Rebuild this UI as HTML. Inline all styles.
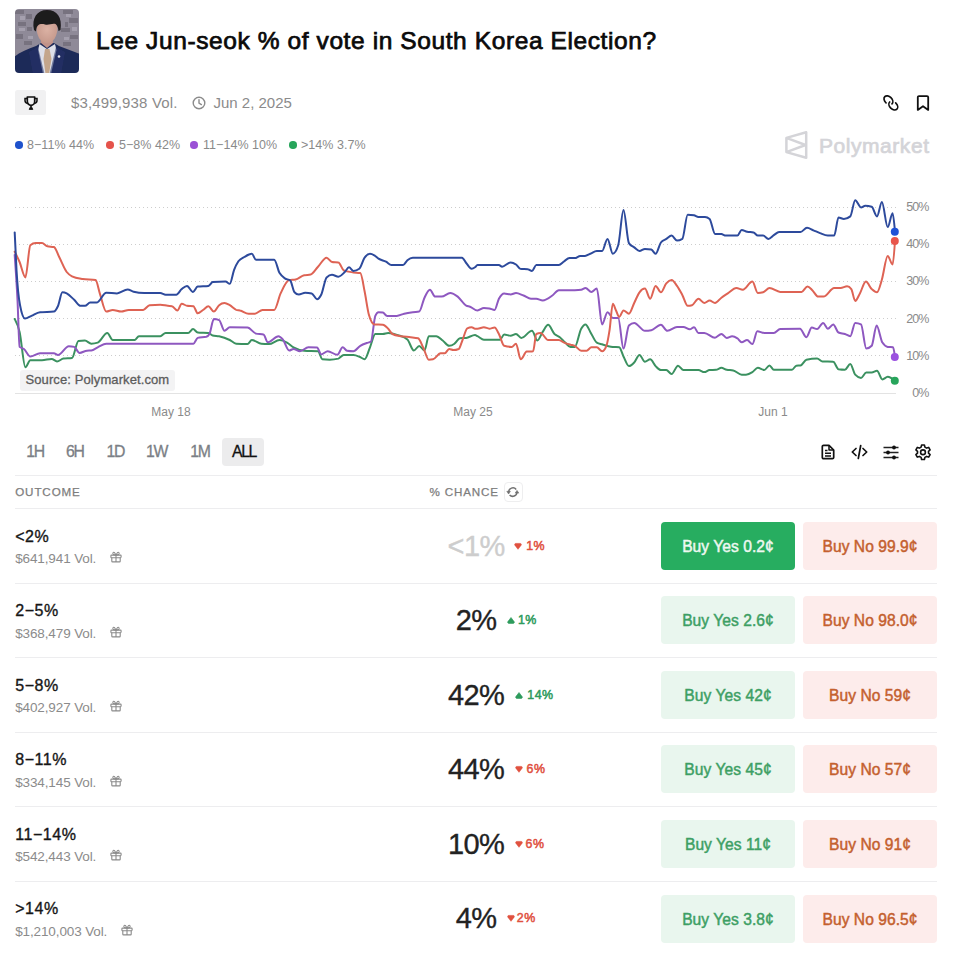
<!DOCTYPE html>
<html><head><meta charset="utf-8">
<style>
html,body{margin:0;padding:0;background:#fff;}
body{width:961px;height:959px;position:relative;overflow:hidden;font-family:"Liberation Sans", sans-serif;}
.t{position:absolute;white-space:nowrap;}
.a{position:absolute;}
svg{position:absolute;overflow:visible;}
</style></head><body>
<svg style="left:15px;top:9px" width="64" height="64" viewBox="0 0 64 64">
<defs><clipPath id="cp"><rect x="0" y="0" width="64" height="64" rx="4"/></clipPath>
<filter id="bl" x="-10%" y="-10%" width="120%" height="120%"><feGaussianBlur stdDeviation="0.5"/></filter>
<radialGradient id="fg" cx="0.5" cy="0.45" r="0.6"><stop offset="0" stop-color="#dcb2a4"/><stop offset="1" stop-color="#c4978a"/></radialGradient></defs>
<g clip-path="url(#cp)"><g filter="url(#bl)">
<rect x="-2" y="-2" width="68" height="68" fill="#8f8a98"/>
<g fill="#77727f">
<rect x="0" y="1" width="9" height="4"/><rect x="11" y="5" width="6" height="5"/><rect x="48" y="1" width="10" height="4"/><rect x="54" y="9" width="9" height="5"/>
<rect x="3" y="13" width="8" height="4"/><rect x="46" y="19" width="9" height="4"/><rect x="1" y="25" width="7" height="5"/><rect x="55" y="26" width="8" height="4"/>
<rect x="9" y="32" width="8" height="4"/><rect x="48" y="33" width="8" height="4"/><rect x="12" y="18" width="5" height="4"/><rect x="50" y="13" width="3" height="5"/>
</g>
<g fill="#a5a0ae"><rect x="5" y="7" width="5" height="4"/><rect x="51" y="5" width="5" height="3"/><rect x="4" y="19" width="6" height="3"/><rect x="57" y="18" width="5" height="4"/><rect x="13" y="27" width="5" height="3"/><rect x="49" y="28" width="5" height="3"/></g>
<path d="M-1 48 C5 43 13 40 21 37 L26 34 L39 34 L44 37 C51 40 58 42 65 45 L65 65 L-1 65 Z" fill="#1e2a58"/>
<path d="M24.5 35 L32 40 L40 35 L41.5 41 L36 65 L28 65 L23 41 Z" fill="#dddfe8"/>
<path d="M30 40 L34.5 40 L36.5 50 L34 65 L30.5 65 L28.5 50 Z" fill="#c4a68b"/>
<path d="M23 38 L29.5 65 L18 65 L14 43 Z" fill="#26336b" opacity="0.6"/>
<path d="M41 38 L34.5 65 L46 65 L50 43 Z" fill="#26336b" opacity="0.6"/>
<path d="M26 27 H38 V34 L32 39 L26 34 Z" fill="#c2938a"/>
<path d="M21.5 18 C21.5 11 26 9 32 9 C38 9 42.5 11 42.5 18 C42.5 27 38.5 34 32 34 C25.5 34 21.5 27 21.5 18 Z" fill="url(#fg)"/>
<path d="M19 21 C16.5 9 22 1 32 1 C42 1 47.5 8 45.5 21 L43.5 22 C43 18 42 16 40.5 15 C37 14 34 16.5 30 15.5 C27 14.8 24.5 15 23 16.5 C21.8 17.7 21.2 19.5 21 22.5 Z" fill="#1d1a1d"/>
<circle cx="44" cy="47.5" r="1.3" fill="#e6e6ee"/>
</g></g></svg>
<div class="t" style="left:96px;top:28.76px;font-size:24.5px;line-height:24.5px;color:#0a0a0a;font-weight:400;letter-spacing:0.6px;-webkit-text-stroke:0.75px #0a0a0a;">Lee Jun-seok % of vote in South Korea Election?</div>
<div class="a" style="left:15px;top:90px;width:31px;height:25px;background:#f1f1f2;border-radius:2.5px;"></div>
<svg style="left:24px;top:96px" width="14" height="14" viewBox="0 0 14 14">
<path d="M3.3 1 H10.7 V5.2 C10.7 7.6 9 9.3 7 9.3 C5 9.3 3.3 7.6 3.3 5.2 Z" fill="none" stroke="#111" stroke-width="1.7" stroke-linejoin="round"/>
<path d="M3.3 2.6 H1 V4.6 C1 6.2 2.1 7.3 3.8 7.4 M10.7 2.6 H13 V4.6 C13 6.2 11.9 7.3 10.2 7.4" fill="none" stroke="#111" stroke-width="1.5"/>
<path d="M7 9.3 V11.5" stroke="#111" stroke-width="1.6"/>
<path d="M5.2 13.5 L5.9 11.6 H8.1 L8.8 13.5 Z" fill="#111" stroke="#111" stroke-width="0.8" stroke-linejoin="round"/>
</svg>
<div class="t" style="left:71px;top:95.30px;font-size:15px;line-height:15px;color:#8b8b8b;font-weight:400;letter-spacing:0.15px;">$3,499,938 Vol.</div>
<svg style="left:192px;top:96px" width="14" height="14" viewBox="0 0 14 14">
<circle cx="7" cy="7" r="5.8" fill="none" stroke="#8b8b8b" stroke-width="1.4"/>
<path d="M7 3.6 V7.2 L9.4 8.6" fill="none" stroke="#8b8b8b" stroke-width="1.4" stroke-linecap="round"/>
</svg>
<div class="t" style="left:213.5px;top:95.30px;font-size:15px;line-height:15px;color:#8b8b8b;font-weight:400;">Jun 2, 2025</div>
<svg style="left:883px;top:95px" width="16" height="16" viewBox="0 0 16 16">
<ellipse cx="5.4" cy="5.2" rx="5.1" ry="3.6" transform="rotate(45 5.4 5.2)" pathLength="100" stroke-dasharray="76 24" stroke-dashoffset="-24" fill="none" stroke="#111" stroke-width="1.7" stroke-linecap="round"/>
<ellipse cx="10.3" cy="10.6" rx="5.1" ry="3.6" transform="rotate(45 10.3 10.6)" pathLength="100" stroke-dasharray="76 24" stroke-dashoffset="-74" fill="none" stroke="#111" stroke-width="1.7" stroke-linecap="round"/>
</svg>
<svg style="left:916px;top:95px" width="14" height="16" viewBox="0 0 14 16">
<path d="M1.8 14.9 V2.3 C1.8 1.6 2.3 1.1 3 1.1 H11 C11.7 1.1 12.2 1.6 12.2 2.3 V14.9 L7 11.2 Z" fill="none" stroke="#111" stroke-width="1.8" stroke-linejoin="round"/>
</svg>
<div class="a" style="left:15px;top:141px;width:7.5px;height:7.5px;border-radius:50%;background:#1f52cc;"></div>
<div class="t" style="left:27px;top:138.92px;font-size:12.5px;line-height:12.5px;color:#8a8a8a;font-weight:400;letter-spacing:0.05px;">8−11% 44%</div>
<div class="a" style="left:106px;top:141px;width:7.5px;height:7.5px;border-radius:50%;background:#e5534b;"></div>
<div class="t" style="left:119px;top:138.92px;font-size:12.5px;line-height:12.5px;color:#8a8a8a;font-weight:400;letter-spacing:0.05px;">5−8% 42%</div>
<div class="a" style="left:190px;top:141px;width:7.5px;height:7.5px;border-radius:50%;background:#9b51d6;"></div>
<div class="t" style="left:203px;top:138.92px;font-size:12.5px;line-height:12.5px;color:#8a8a8a;font-weight:400;letter-spacing:0.05px;">11−14% 10%</div>
<div class="a" style="left:289px;top:141px;width:7.5px;height:7.5px;border-radius:50%;background:#27a55b;"></div>
<div class="t" style="left:301px;top:138.92px;font-size:12.5px;line-height:12.5px;color:#8a8a8a;font-weight:400;letter-spacing:0.05px;">>14% 3.7%</div>
<svg style="left:784px;top:130px" width="25" height="30" viewBox="0 0 25 30">
<path d="M2.4 7.9 L22.2 2.3 L22.2 27.8 L2.4 22.1 Z M2.4 7.9 L21.5 15 L2.4 22.1" fill="none" stroke="#d4d4d8" stroke-width="2.5" stroke-linejoin="round"/>
</svg>
<div class="t" style="left:819px;top:134.72px;font-size:21px;line-height:21px;color:#d4d4d8;font-weight:400;letter-spacing:0.55px;-webkit-text-stroke:0.7px #d4d4d8;">Polymarket</div>
<svg style="left:0;top:0" width="961" height="959"><line x1="15" y1="207.5" x2="896" y2="207.5" stroke="#cdcdcd" stroke-width="1" stroke-dasharray="1 3"/></svg>
<svg style="left:0;top:0" width="961" height="959"><line x1="15" y1="244.5" x2="896" y2="244.5" stroke="#cdcdcd" stroke-width="1" stroke-dasharray="1 3"/></svg>
<svg style="left:0;top:0" width="961" height="959"><line x1="15" y1="281.5" x2="896" y2="281.5" stroke="#cdcdcd" stroke-width="1" stroke-dasharray="1 3"/></svg>
<svg style="left:0;top:0" width="961" height="959"><line x1="15" y1="318.5" x2="896" y2="318.5" stroke="#cdcdcd" stroke-width="1" stroke-dasharray="1 3"/></svg>
<svg style="left:0;top:0" width="961" height="959"><line x1="15" y1="355.5" x2="896" y2="355.5" stroke="#cdcdcd" stroke-width="1" stroke-dasharray="1 3"/></svg>
<div class="a" style="left:15px;top:393px;width:881px;height:1px;background:#e3e3e3;"></div>
<div class="t" style="left:888.5px;width:40px;text-align:right;top:200.92px;font-size:12.5px;line-height:12.5px;color:#8a8a8a;font-weight:400;letter-spacing:-0.9px;">50%</div>
<div class="t" style="left:888.5px;width:40px;text-align:right;top:238.12px;font-size:12.5px;line-height:12.5px;color:#8a8a8a;font-weight:400;letter-spacing:-0.9px;">40%</div>
<div class="t" style="left:888.5px;width:40px;text-align:right;top:275.32px;font-size:12.5px;line-height:12.5px;color:#8a8a8a;font-weight:400;letter-spacing:-0.9px;">30%</div>
<div class="t" style="left:888.5px;width:40px;text-align:right;top:312.52px;font-size:12.5px;line-height:12.5px;color:#8a8a8a;font-weight:400;letter-spacing:-0.9px;">20%</div>
<div class="t" style="left:888.5px;width:40px;text-align:right;top:349.72px;font-size:12.5px;line-height:12.5px;color:#8a8a8a;font-weight:400;letter-spacing:-0.9px;">10%</div>
<div class="t" style="left:888.5px;width:40px;text-align:right;top:386.92px;font-size:12.5px;line-height:12.5px;color:#8a8a8a;font-weight:400;letter-spacing:-0.9px;">0%</div>
<div class="a" style="left:19.5px;top:369.5px;width:155px;height:21.5px;background:#f3f3f4;border-radius:3px;"></div>
<div class="t" style="left:25.5px;top:373.20px;font-size:13px;line-height:13px;color:#5c5c5c;font-weight:400;letter-spacing:0.1px;-webkit-text-stroke:0.3px #5c5c5c;">Source: Polymarket.com</div>
<div class="t" style="left:131.0px;width:80px;text-align:center;top:406.04px;font-size:12px;line-height:12px;color:#8a8a8a;font-weight:400;">May 18</div>
<div class="t" style="left:433.0px;width:80px;text-align:center;top:406.04px;font-size:12px;line-height:12px;color:#8a8a8a;font-weight:400;">May 25</div>
<div class="t" style="left:733.0px;width:80px;text-align:center;top:406.04px;font-size:12px;line-height:12px;color:#8a8a8a;font-weight:400;">Jun 1</div>
<svg style="left:0;top:0" width="961" height="959">
<path d="M14.7,319.0 C16.3,322.0 18.0,325.0 19.6,331.9 C21.5,340.0 23.5,367.2 25.4,367.2 C27.0,367.2 28.7,360.3 30.3,360.3 C34.2,360.3 38.1,360.3 42.0,360.3 C45.2,360.3 48.5,358.9 51.7,358.9 C53.5,358.9 55.2,361.4 57.0,361.4 C59.2,361.4 61.3,358.9 63.5,358.6 C66.3,358.2 69.2,358.4 72.0,358.0 C74.1,357.7 76.3,341.2 78.4,340.9 C80.6,340.6 82.7,340.5 84.9,340.5 C87.0,340.5 89.2,343.7 91.3,343.7 C93.4,343.7 95.6,343.3 97.7,342.6 C100.9,341.5 104.1,333.0 107.3,333.0 C109.1,333.0 110.9,340.0 112.7,340.0 C120.0,340.0 127.3,340.0 134.6,340.0 C136.0,340.0 137.5,336.2 138.9,336.2 C146.0,336.2 153.2,336.2 160.3,336.2 C162.1,336.2 163.8,333.0 165.6,333.0 C173.1,333.0 180.6,333.0 188.1,333.0 C189.7,333.0 191.4,329.1 193.0,329.1 C194.6,329.1 196.1,332.4 197.7,332.5 C201.3,332.8 204.8,332.7 208.4,333.0 C209.8,333.1 211.3,335.2 212.7,335.5 C214.8,336.0 217.0,335.8 219.1,336.2 C222.7,336.9 226.2,338.2 229.8,340.0 C231.9,341.1 234.1,343.5 236.2,343.7 C240.0,344.0 243.7,344.1 247.5,344.1 C248.9,344.1 250.4,340.0 251.8,340.0 C255.0,340.0 258.2,343.4 261.4,343.7 C263.9,344.0 266.4,344.1 268.9,344.1 C272.5,344.1 276.0,340.0 279.6,340.0 C282.1,340.0 284.5,341.2 287.0,342.6 C289.2,343.8 291.3,346.1 293.5,347.3 C297.1,349.3 300.6,350.4 304.2,350.7 C308.8,351.0 313.4,350.9 318.0,351.2 C319.5,351.3 320.9,359.1 322.4,359.3 C324.9,359.6 327.3,359.7 329.8,359.7 C332.7,359.7 335.5,359.3 338.4,358.6 C340.2,358.1 341.9,355.0 343.7,355.0 C346.9,355.0 350.2,355.0 353.4,355.0 C355.6,355.0 357.8,356.1 360.0,357.0 C361.5,357.6 363.1,359.3 364.6,359.3 C366.4,359.3 368.2,351.6 370.0,347.3 C371.8,343.1 373.5,334.0 375.3,334.0 C377.8,334.0 380.3,334.0 382.8,334.0 C384.6,334.0 386.4,333.0 388.2,333.0 C391.4,333.0 394.6,334.0 397.8,335.1 C401.0,336.2 404.2,336.5 407.4,339.4 C409.5,341.3 411.7,350.5 413.8,350.5 C415.6,350.5 417.4,346.0 419.2,346.0 C421.0,346.0 422.7,350.5 424.5,350.5 C425.9,350.5 427.4,336.2 428.8,336.2 C431.3,336.2 433.8,336.2 436.3,336.2 C438.4,336.2 440.6,338.9 442.7,340.5 C444.8,342.1 447.0,345.8 449.1,345.8 C450.9,345.8 452.7,345.0 454.5,343.7 C456.3,342.5 458.0,338.5 459.8,338.3 C461.9,338.0 464.1,338.2 466.2,337.9 C469.1,337.5 472.1,335.1 475.0,335.1 C475.8,335.1 476.7,335.8 477.5,336.2 C479.6,337.2 481.8,339.8 483.9,339.8 C489.3,339.8 494.6,339.8 500.0,339.8 C501.4,339.8 502.8,334.5 504.2,334.5 C506.3,334.5 508.5,335.8 510.6,335.8 C512.4,335.8 514.2,334.0 516.0,334.0 C517.8,334.0 519.5,337.9 521.3,337.9 C524.9,337.9 528.4,330.8 532.0,330.8 C533.8,330.8 535.6,340.5 537.4,340.5 C539.2,340.5 540.9,334.5 542.7,331.9 C544.5,329.3 546.3,324.8 548.1,324.8 C550.2,324.8 552.4,331.9 554.5,334.0 C556.3,335.7 558.0,335.8 559.8,337.2 C561.6,338.6 563.4,341.0 565.2,342.6 C567.0,344.2 568.7,346.9 570.5,346.9 C571.9,346.9 573.4,346.9 574.8,346.9 C576.9,346.9 579.1,332.4 581.2,328.7 C582.6,326.2 584.1,324.4 585.5,324.4 C587.1,324.4 588.7,329.3 590.3,331.9 C592.5,335.4 594.6,341.2 596.8,342.6 C598.6,343.7 600.3,343.8 602.1,344.3 C605.7,345.4 609.2,346.5 612.8,346.9 C614.9,347.2 617.1,347.0 619.2,347.3 C620.6,347.5 622.1,353.7 623.5,356.5 C625.3,360.1 627.1,366.1 628.9,366.1 C630.7,366.1 632.4,364.4 634.2,362.5 C636.0,360.6 637.7,355.0 639.5,355.0 C641.3,355.0 643.1,361.8 644.9,361.8 C646.7,361.8 648.4,359.3 650.2,359.3 C652.0,359.3 653.8,364.3 655.6,366.1 C657.4,367.9 659.1,370.0 660.9,370.0 C662.7,370.0 664.5,370.0 666.3,370.0 C668.1,370.0 669.8,374.0 671.6,374.0 C673.7,374.0 675.9,365.7 678.0,365.7 C679.8,365.7 681.6,370.0 683.4,370.0 C688.4,370.0 693.4,370.0 698.4,370.0 C700.4,370.0 702.3,372.1 704.3,372.1 C706.1,372.1 707.8,370.1 709.6,370.0 C711.7,369.9 713.9,369.9 716.0,369.8 C717.8,369.7 719.6,367.8 721.4,367.8 C723.2,367.8 724.9,369.5 726.7,369.8 C728.9,370.2 731.0,370.0 733.2,370.4 C736.0,370.9 738.9,374.7 741.7,374.7 C743.1,374.7 744.6,374.7 746.0,374.7 C748.1,374.7 750.3,373.4 752.4,372.1 C754.2,371.0 756.0,367.8 757.8,367.8 C759.9,367.8 762.1,370.0 764.2,370.0 C766.0,370.0 767.7,365.5 769.5,365.5 C770.9,365.5 772.4,369.8 773.8,369.8 C779.9,369.8 785.9,369.8 792.0,369.8 C793.4,369.8 794.9,365.8 796.3,365.7 C797.7,365.6 799.1,365.6 800.5,365.5 C802.5,365.3 804.4,360.1 806.4,359.7 C810.0,359.0 813.5,358.6 817.1,358.6 C818.9,358.6 820.7,361.3 822.5,361.4 C826.1,361.7 829.6,361.5 833.2,361.8 C835.0,361.9 836.7,369.0 838.5,369.3 C840.6,369.6 842.8,369.8 844.9,369.8 C846.7,369.8 848.5,364.0 850.3,364.0 C851.9,364.0 853.6,372.9 855.2,374.7 C857.1,376.8 859.1,377.9 861.0,377.9 C862.8,377.9 864.5,372.5 866.3,372.5 C868.1,372.5 869.9,372.5 871.7,372.5 C873.5,372.5 875.2,370.8 877.0,370.8 C878.8,370.8 880.6,379.4 882.4,379.4 C884.2,379.4 885.9,376.8 887.7,376.8 C890.1,376.8 892.6,378.8 895.0,380.7" fill="none" stroke="#3b9160" stroke-width="2" stroke-linejoin="round" stroke-linecap="round"/>
<path d="M14.7,254.9 C15.6,268.3 16.6,281.6 17.5,300.0 C18.2,313.8 18.9,346.2 19.6,346.9 C21.0,348.3 22.5,347.9 23.9,349.0 C26.0,350.6 28.2,356.5 30.3,356.5 C33.5,356.5 36.8,353.3 40.0,353.3 C44.6,353.3 49.3,353.3 53.9,353.3 C55.3,353.3 56.6,355.0 58.0,355.0 C61.6,355.0 65.2,346.2 68.8,346.2 C70.6,346.2 72.4,346.4 74.2,346.9 C76.0,347.4 77.7,352.9 79.5,352.9 C82.0,352.9 84.5,350.9 87.0,350.7 C88.4,350.6 89.9,350.6 91.3,350.5 C93.4,350.3 95.6,348.3 97.7,347.3 C100.6,346.0 103.4,343.7 106.3,343.7 C114.2,343.7 122.1,343.7 130.0,343.7 C151.1,343.7 172.3,343.7 193.4,343.7 C194.8,343.7 196.3,338.3 197.7,337.9 C200.6,337.2 203.4,337.5 206.3,336.8 C207.4,336.5 208.4,335.9 209.5,334.0 C210.9,331.5 212.4,319.1 213.8,319.1 C215.6,319.1 217.3,319.4 219.1,320.1 C220.9,320.8 222.7,330.8 224.5,330.8 C226.3,330.8 228.0,327.2 229.8,327.2 C235.7,327.2 241.6,327.3 247.5,327.6 C250.3,327.7 253.2,332.9 256.0,333.6 C258.5,334.2 261.0,333.9 263.5,334.5 C264.9,334.8 266.4,342.2 267.8,342.2 C271.4,342.2 274.9,336.2 278.5,336.2 C279.9,336.2 281.4,337.8 282.8,339.4 C284.9,341.8 287.1,350.5 289.2,350.5 C290.6,350.5 292.1,349.0 293.5,349.0 C295.6,349.0 297.8,351.2 299.9,351.2 C302.7,351.2 305.6,347.3 308.4,347.3 C311.3,347.3 314.1,347.4 317.0,347.5 C318.4,347.6 319.9,354.4 321.3,354.4 C323.4,354.4 325.6,351.2 327.7,351.2 C330.9,351.2 334.1,354.8 337.3,354.8 C339.1,354.8 340.9,347.3 342.7,347.3 C344.1,347.3 345.6,350.5 347.0,350.7 C349.1,351.0 351.3,351.2 353.4,351.2 C355.7,351.2 358.0,347.2 360.3,345.8 C362.5,344.5 364.6,343.8 366.8,343.0 C368.2,342.5 369.6,342.5 371.0,341.5 C372.4,340.5 373.9,319.2 375.3,315.9 C376.4,313.4 377.4,312.2 378.5,312.2 C379.9,312.2 381.4,312.3 382.8,312.6 C384.2,312.9 385.7,315.9 387.1,315.9 C390.3,315.9 393.5,315.9 396.7,315.9 C399.2,315.9 401.7,314.3 404.2,313.7 C407.1,313.0 409.9,312.6 412.8,312.2 C414.9,311.9 417.1,312.0 419.2,311.6 C421.0,311.3 422.7,301.3 424.5,297.7 C426.3,294.0 428.1,289.8 429.9,289.8 C431.7,289.8 433.4,296.6 435.2,296.6 C437.3,296.6 439.5,296.6 441.6,296.6 C444.5,296.6 447.3,293.0 450.2,293.0 C452.7,293.0 455.2,294.7 457.7,296.6 C460.5,298.7 463.4,304.1 466.2,305.6 C467.5,306.3 468.7,306.2 470.0,306.7 C472.5,307.6 475.0,310.5 477.5,310.5 C479.6,310.5 481.8,307.9 483.9,307.9 C485.7,307.9 487.5,308.1 489.3,308.4 C491.1,308.7 492.8,309.9 494.6,309.9 C496.0,309.9 497.5,301.4 498.9,298.7 C500.7,295.4 502.4,293.4 504.2,293.4 C506.3,293.4 508.5,294.5 510.6,294.5 C512.4,294.5 514.2,293.0 516.0,293.0 C518.5,293.0 521.0,294.6 523.5,295.5 C526.0,296.4 528.5,298.7 531.0,298.7 C532.8,298.7 534.5,298.7 536.3,298.7 C538.4,298.7 540.6,300.5 542.7,300.5 C545.9,300.5 549.2,297.8 552.4,295.5 C554.5,294.0 556.7,290.2 558.8,290.2 C564.1,290.2 569.5,290.2 574.8,290.2 C576.9,290.2 579.1,290.1 581.2,289.8 C582.6,289.6 584.1,288.0 585.5,288.0 C587.5,288.0 589.4,291.9 591.4,291.9 C593.2,291.9 595.0,288.5 596.8,288.5 C598.6,288.5 600.3,324.4 602.1,324.4 C603.9,324.4 605.7,312.2 607.5,312.2 C609.3,312.2 611.0,318.0 612.8,318.0 C614.6,318.0 616.4,318.0 618.2,318.0 C620.0,318.0 621.7,348.6 623.5,348.6 C625.3,348.6 627.1,327.3 628.9,325.5 C630.7,323.8 632.4,322.9 634.2,322.9 C637.8,322.9 641.3,330.8 644.9,330.8 C647.0,330.8 649.2,330.6 651.3,330.2 C654.5,329.6 657.7,324.8 660.9,324.8 C663.1,324.8 665.2,330.8 667.4,330.8 C670.6,330.8 673.8,327.0 677.0,327.0 C679.1,327.0 681.3,327.0 683.4,327.0 C685.5,327.0 687.7,329.3 689.8,329.3 C691.2,329.3 692.7,327.2 694.1,327.2 C695.5,327.2 697.0,333.0 698.4,333.0 C700.4,333.0 702.3,333.0 704.3,333.0 C707.9,333.0 711.4,337.7 715.0,337.7 C717.1,337.7 719.3,334.0 721.4,334.0 C723.2,334.0 724.9,337.9 726.7,337.9 C728.5,337.9 730.3,336.2 732.1,336.2 C733.9,336.2 735.6,337.1 737.4,338.3 C738.8,339.3 740.3,342.2 741.7,342.2 C743.5,342.2 745.3,340.0 747.1,340.0 C748.9,340.0 750.6,344.1 752.4,344.1 C754.0,344.1 755.7,331.3 757.3,331.3 C759.6,331.3 761.9,333.0 764.2,333.0 C767.4,333.0 770.6,333.0 773.8,333.0 C775.9,333.0 778.1,329.2 780.2,329.1 C786.8,328.8 793.4,328.7 800.0,328.7 C802.1,328.7 804.3,337.2 806.4,337.2 C808.2,337.2 810.0,327.6 811.8,327.6 C813.6,327.6 815.3,329.1 817.1,329.1 C819.1,329.1 821.1,322.9 823.1,322.9 C824.7,322.9 826.2,328.7 827.8,328.7 C829.6,328.7 831.4,324.4 833.2,324.4 C835.0,324.4 836.7,331.7 838.5,332.5 C840.6,333.5 842.8,333.3 844.9,334.0 C846.7,334.6 848.5,336.2 850.3,336.2 C851.9,336.2 853.6,322.9 855.2,322.9 C857.1,322.9 859.1,323.4 861.0,324.4 C862.8,325.3 864.5,348.6 866.3,348.6 C868.1,348.6 869.9,347.7 871.7,345.8 C873.3,344.1 875.0,325.5 876.6,325.5 C878.5,325.5 880.5,339.5 882.4,342.6 C884.2,345.5 885.9,346.6 887.7,346.9 C889.5,347.2 891.2,347.0 893.0,347.3 C893.7,347.4 894.3,352.2 895.0,356.9" fill="none" stroke="#8e58c0" stroke-width="2" stroke-linejoin="round" stroke-linecap="round"/>
<path d="M14.7,251.7 C16.3,254.9 18.0,258.2 19.6,262.0 C21.5,266.6 23.5,277.4 25.4,277.4 C27.0,277.4 28.7,246.6 30.3,245.3 C32.1,243.8 33.9,243.1 35.7,243.1 C37.8,243.1 39.9,243.1 42.0,243.1 C43.8,243.1 45.6,245.9 47.4,246.3 C49.6,246.8 51.7,246.5 53.9,247.0 C55.7,247.4 57.4,253.6 59.2,257.0 C61.7,261.8 64.2,268.7 66.7,272.0 C68.5,274.3 70.2,275.4 72.0,276.3 C75.6,278.1 79.1,278.4 82.7,279.0 C87.0,279.7 91.3,279.4 95.6,280.1 C97.0,280.3 98.4,289.2 99.8,293.4 C102.0,299.9 104.1,311.6 106.3,311.6 C108.4,311.6 110.6,310.0 112.7,310.0 C115.5,310.0 118.4,311.6 121.2,311.6 C123.7,311.6 126.2,310.0 128.7,310.0 C133.5,309.9 138.4,310.0 143.2,309.9 C145.3,309.9 147.5,305.4 149.6,305.2 C153.2,304.9 156.7,304.7 160.3,304.7 C162.8,304.7 165.3,305.5 167.8,305.8 C169.2,306.0 170.6,305.9 172.0,306.2 C173.8,306.5 175.6,310.5 177.4,310.5 C178.8,310.5 180.3,303.7 181.7,303.7 C183.5,303.7 185.2,305.6 187.0,305.8 C189.1,306.1 191.3,305.9 193.4,306.2 C194.8,306.4 196.3,313.3 197.7,313.3 C199.5,313.3 201.2,311.2 203.0,310.0 C204.8,308.8 206.6,306.2 208.4,306.2 C210.2,306.2 212.0,311.6 213.8,311.6 C215.6,311.6 217.3,306.6 219.1,305.2 C220.9,303.7 222.7,303.0 224.5,303.0 C226.3,303.0 228.0,304.2 229.8,305.2 C231.9,306.4 234.1,309.2 236.2,309.9 C237.5,310.3 238.7,310.2 240.0,310.5 C242.9,311.1 245.7,313.7 248.6,313.7 C250.7,313.7 252.9,313.7 255.0,313.7 C257.5,313.7 260.0,309.9 262.5,309.9 C266.4,309.9 270.3,309.9 274.2,309.9 C276.3,309.9 278.5,298.0 280.6,293.4 C283.5,287.3 286.3,280.6 289.2,280.1 C291.3,279.7 293.5,279.9 295.6,279.5 C298.5,279.0 301.3,275.7 304.2,275.2 C306.3,274.8 308.5,275.0 310.6,274.6 C313.1,274.1 315.5,269.3 318.0,266.7 C320.9,263.7 323.7,257.7 326.6,257.7 C328.4,257.7 330.2,261.8 332.0,262.0 C334.1,262.3 336.3,262.1 338.4,262.4 C340.2,262.6 341.9,269.5 343.7,270.3 C346.9,271.7 350.2,271.9 353.4,272.4 C355.7,272.7 358.0,272.6 360.3,273.1 C361.7,273.4 363.2,284.3 364.6,291.3 C366.0,298.2 367.5,309.7 368.9,314.8 C370.7,321.2 372.5,324.2 374.3,324.4 C377.1,324.7 380.0,324.5 382.8,324.8 C384.6,325.0 386.4,326.9 388.2,328.7 C389.6,330.1 391.0,333.3 392.4,334.0 C395.3,335.5 398.1,335.7 401.0,336.2 C404.2,336.8 407.4,336.8 410.6,337.2 C413.1,337.5 415.6,337.6 418.1,338.3 C419.9,338.8 421.6,344.5 423.4,348.0 C425.2,351.6 427.0,359.7 428.8,359.7 C430.2,359.7 431.6,359.6 433.0,359.3 C435.5,358.8 438.1,353.3 440.6,353.3 C442.0,353.3 443.4,353.3 444.8,353.3 C446.2,353.3 447.7,349.0 449.1,349.0 C450.5,349.0 452.0,350.1 453.4,350.1 C455.2,350.1 456.9,349.7 458.7,349.0 C459.8,348.5 460.9,344.1 462.0,341.5 C463.8,337.3 465.5,329.2 467.3,328.3 C468.7,327.6 470.2,327.2 471.6,327.2 C472.7,327.2 473.9,328.7 475.0,328.7 C475.8,328.7 476.7,328.7 477.5,328.7 C479.6,328.7 481.8,327.2 483.9,327.2 C485.7,327.2 487.5,328.7 489.3,328.7 C491.1,328.7 492.8,327.6 494.6,327.6 C496.0,327.6 497.5,331.4 498.9,334.0 C500.7,337.2 502.4,345.3 504.2,345.8 C506.7,346.5 509.2,346.9 511.7,346.9 C513.1,346.9 514.6,343.7 516.0,343.7 C517.6,343.7 519.1,359.3 520.7,359.3 C522.7,359.3 524.7,351.9 526.7,351.6 C528.8,351.3 531.0,351.5 533.1,351.2 C534.2,351.1 535.2,334.5 536.3,334.0 C537.7,333.3 539.2,333.0 540.6,333.0 C543.1,333.0 545.6,340.0 548.1,340.0 C551.7,340.0 555.2,340.0 558.8,340.0 C560.6,340.0 562.3,341.9 564.1,342.6 C566.2,343.5 568.4,344.1 570.5,344.7 C571.9,345.1 573.4,345.1 574.8,345.8 C576.9,346.8 579.1,350.7 581.2,350.7 C583.0,350.7 584.8,350.7 586.6,350.7 C588.2,350.7 589.8,347.3 591.4,347.3 C593.2,347.3 595.0,347.3 596.8,347.3 C598.6,347.3 600.3,351.2 602.1,351.2 C603.5,351.2 605.0,349.4 606.4,345.8 C607.5,343.1 608.5,336.8 609.6,329.8 C610.7,322.8 611.7,303.7 612.8,303.7 C613.9,303.7 614.9,308.3 616.0,310.5 C617.1,312.7 618.1,316.9 619.2,316.9 C620.6,316.9 622.1,310.5 623.5,310.5 C625.3,310.5 627.1,313.7 628.9,313.7 C630.7,313.7 632.4,306.6 634.2,303.0 C636.0,299.4 637.7,294.7 639.5,292.3 C641.3,289.8 643.1,288.5 644.9,288.5 C646.7,288.5 648.4,298.7 650.2,298.7 C652.0,298.7 653.8,285.9 655.6,285.9 C657.4,285.9 659.1,292.3 660.9,292.3 C662.7,292.3 664.5,285.3 666.3,283.3 C668.1,281.3 669.8,280.1 671.6,280.1 C673.4,280.1 675.2,283.4 677.0,285.9 C678.8,288.4 680.5,291.6 682.3,294.9 C684.1,298.2 685.9,305.8 687.7,305.8 C689.1,305.8 690.6,305.6 692.0,305.2 C694.1,304.6 696.3,298.7 698.4,298.7 C700.4,298.7 702.3,303.0 704.3,303.0 C706.1,303.0 707.8,300.5 709.6,300.5 C711.4,300.5 713.2,303.0 715.0,303.0 C717.1,303.0 719.3,299.3 721.4,297.7 C723.5,296.1 725.7,294.8 727.8,293.4 C730.7,291.5 733.5,288.0 736.4,288.0 C738.5,288.0 740.7,289.8 742.8,289.8 C746.0,289.8 749.2,281.6 752.4,281.6 C754.2,281.6 756.0,293.0 757.8,293.0 C759.6,293.0 761.3,292.8 763.1,292.3 C765.2,291.7 767.4,288.0 769.5,288.0 C773.1,288.0 776.6,291.9 780.2,291.9 C787.3,291.9 794.5,291.9 801.6,291.9 C803.6,291.9 805.5,286.5 807.5,286.5 C809.1,286.5 810.7,288.7 812.3,290.2 C814.3,292.0 816.2,296.6 818.2,296.6 C820.0,296.6 821.7,296.6 823.5,296.6 C827.1,296.6 830.6,288.0 834.2,288.0 C836.3,288.0 838.5,288.0 840.6,288.0 C842.8,288.0 844.9,286.3 847.1,286.3 C848.5,286.3 849.9,287.2 851.3,289.1 C852.6,290.8 853.9,300.9 855.2,300.9 C856.8,300.9 858.3,296.2 859.9,293.4 C861.9,289.9 863.9,281.6 865.9,281.6 C867.8,281.6 869.8,287.3 871.7,289.1 C873.5,290.7 875.2,292.3 877.0,292.3 C878.6,292.3 880.3,284.8 881.9,279.5 C883.8,273.2 885.8,256.0 887.7,256.0 C889.3,256.0 891.0,264.5 892.6,264.5 C893.4,264.5 894.2,252.8 895.0,241.0" fill="none" stroke="#de6354" stroke-width="2" stroke-linejoin="round" stroke-linecap="round"/>
<path d="M14.7,232.4 C15.3,246.0 15.9,259.7 16.5,270.0 C17.7,290.1 18.8,298.7 20.0,305.0 C21.7,314.1 23.3,318.6 25.0,318.6 C27.1,318.6 29.3,316.8 31.4,315.9 C34.3,314.7 37.1,312.4 40.0,312.2 C44.6,311.8 49.3,312.0 53.9,311.6 C55.3,311.5 56.6,309.0 58.0,306.0 C59.5,302.8 60.9,292.3 62.4,292.3 C63.8,292.3 65.3,292.7 66.7,293.4 C69.2,294.6 71.7,297.6 74.2,299.8 C76.3,301.7 78.5,305.8 80.6,305.8 C82.1,305.8 83.5,305.8 85.0,305.8 C86.7,305.8 88.5,302.6 90.2,302.6 C92.3,302.6 94.5,302.6 96.6,302.6 C99.8,302.6 103.1,292.8 106.3,292.8 C109.9,292.8 113.4,293.4 117.0,293.4 C120.5,293.4 124.1,289.5 127.6,289.5 C129.6,289.5 131.6,291.2 133.6,291.7 C137.2,292.6 140.7,293.0 144.3,293.0 C149.6,293.0 155.0,293.0 160.3,293.0 C162.1,293.0 163.8,294.7 165.6,294.7 C169.2,294.7 172.7,294.7 176.3,294.7 C178.1,294.7 179.9,290.6 181.7,289.1 C183.5,287.7 185.2,286.0 187.0,286.0 C189.0,286.0 191.0,291.9 193.0,291.9 C194.6,291.9 196.1,286.8 197.7,286.6 C201.3,286.1 204.8,286.4 208.4,285.9 C209.8,285.7 211.3,282.2 212.7,282.1 C217.0,281.8 221.2,281.6 225.5,281.6 C226.9,281.6 228.4,283.8 229.8,283.8 C231.2,283.8 232.7,273.6 234.1,269.9 C235.5,266.1 237.0,263.4 238.4,261.3 C240.4,258.4 242.3,258.2 244.3,257.0 C246.8,255.5 249.3,253.8 251.8,253.8 C253.2,253.8 254.6,259.8 256.0,259.8 C262.1,259.8 268.1,259.8 274.2,259.8 C276.0,259.8 277.8,270.0 279.6,273.1 C281.4,276.1 283.1,277.2 284.9,278.4 C286.7,279.7 288.5,279.1 290.3,280.6 C291.7,281.7 293.1,290.9 294.5,292.3 C295.9,293.8 297.4,294.5 298.8,294.5 C300.9,294.5 303.1,292.8 305.2,292.8 C307.4,292.8 309.5,293.0 311.7,293.4 C313.5,293.7 315.2,299.2 317.0,299.2 C318.4,299.2 319.9,297.4 321.3,294.5 C323.1,290.9 324.8,279.1 326.6,277.4 C328.4,275.7 330.2,274.8 332.0,274.8 C334.1,274.8 336.3,276.7 338.4,276.7 C340.5,276.7 342.7,274.1 344.8,272.0 C346.2,270.6 347.6,267.3 349.0,267.3 C350.5,267.3 351.9,270.9 353.4,270.9 C355.4,270.9 357.3,270.2 359.3,268.8 C361.1,267.5 362.8,260.2 364.6,257.7 C366.4,255.2 368.2,253.8 370.0,253.8 C371.4,253.8 372.9,254.5 374.3,255.3 C375.7,256.1 377.1,257.8 378.5,258.7 C381.0,260.4 383.5,260.4 386.0,261.7 C387.8,262.6 389.6,265.0 391.4,265.0 C395.3,265.0 399.2,265.0 403.1,265.0 C404.5,265.0 406.0,261.4 407.4,260.2 C409.2,258.7 411.0,257.7 412.8,257.7 C429.2,257.7 445.6,257.7 462.0,257.7 C463.4,257.7 464.8,261.3 466.2,263.0 C468.0,265.1 469.8,268.8 471.6,268.8 C472.7,268.8 473.9,268.1 475.0,267.3 C475.8,266.7 476.7,265.0 477.5,265.0 C484.6,265.0 491.8,265.0 498.9,265.0 C500.0,265.0 501.0,266.7 502.1,266.7 C504.9,266.7 507.8,262.4 510.6,262.4 C512.4,262.4 514.2,263.2 516.0,264.5 C517.4,265.5 518.9,268.6 520.3,268.8 C522.8,269.1 525.3,268.9 527.8,269.2 C529.2,269.3 530.6,270.9 532.0,270.9 C533.4,270.9 534.9,265.0 536.3,265.0 C543.8,265.0 551.3,265.0 558.8,265.0 C560.6,265.0 562.3,262.4 564.1,261.3 C565.9,260.1 567.7,258.1 569.5,258.1 C571.3,258.1 573.0,258.1 574.8,258.1 C576.6,258.1 578.4,256.0 580.2,256.0 C581.8,256.0 583.4,256.0 585.0,256.0 C586.8,256.0 588.5,254.5 590.3,253.8 C592.5,252.9 594.6,251.0 596.8,251.0 C598.6,251.0 600.3,251.0 602.1,251.0 C603.9,251.0 605.7,238.9 607.5,238.9 C609.3,238.9 611.0,253.8 612.8,253.8 C614.6,253.8 616.4,251.0 618.2,245.3 C620.0,239.7 621.7,210.0 623.5,210.0 C625.3,210.0 627.1,240.2 628.9,243.1 C630.7,246.0 632.4,246.1 634.2,247.4 C636.0,248.7 637.7,251.0 639.5,251.0 C641.3,251.0 643.1,248.9 644.9,248.9 C647.0,248.9 649.2,249.1 651.3,249.5 C652.7,249.8 654.2,253.8 655.6,253.8 C657.4,253.8 659.1,244.9 660.9,242.5 C662.7,240.1 664.5,240.1 666.3,238.9 C668.1,237.8 669.8,235.6 671.6,235.6 C673.4,235.6 675.2,240.6 677.0,240.6 C678.8,240.6 680.5,240.0 682.3,238.9 C684.1,237.7 685.9,214.7 687.7,214.7 C689.8,214.7 691.9,214.9 694.0,215.3 C695.5,215.6 696.9,217.0 698.4,217.0 C700.6,217.0 702.8,217.0 705.0,217.0 C706.5,217.0 708.1,217.7 709.6,219.0 C711.4,220.6 713.2,233.8 715.0,233.9 C717.1,234.0 719.3,234.0 721.4,234.1 C722.8,234.2 724.3,235.6 725.7,235.6 C729.6,235.6 733.5,235.6 737.4,235.6 C738.8,235.6 740.3,229.9 741.7,229.9 C743.5,229.9 745.3,231.5 747.1,231.8 C749.2,232.2 751.4,232.0 753.5,232.4 C754.9,232.7 756.4,235.6 757.8,235.6 C759.6,235.6 761.3,235.6 763.1,235.6 C764.9,235.6 766.6,238.9 768.4,238.9 C770.2,238.9 772.0,236.4 773.8,235.2 C775.6,234.1 777.3,232.0 779.1,232.0 C786.2,232.0 793.4,232.0 800.5,232.0 C802.7,232.0 804.8,227.7 807.0,227.7 C809.1,227.7 811.3,229.4 813.4,230.3 C815.6,231.2 817.8,232.3 820.0,233.1 C822.6,234.1 825.2,235.6 827.8,235.6 C829.9,235.6 832.1,235.6 834.2,235.6 C835.6,235.6 837.1,217.5 838.5,217.5 C840.3,217.5 842.1,219.0 843.9,219.0 C846.0,219.0 848.2,218.1 850.3,216.4 C851.9,215.1 853.6,200.3 855.2,200.3 C857.1,200.3 859.1,207.4 861.0,207.4 C862.4,207.4 863.8,205.7 865.2,205.7 C867.4,205.7 869.5,206.1 871.7,206.8 C873.5,207.4 875.2,216.4 877.0,216.4 C878.6,216.4 880.3,202.1 881.9,202.1 C883.8,202.1 885.8,227.1 887.7,227.1 C889.3,227.1 891.0,213.2 892.6,213.2 C893.4,213.2 894.2,222.5 895.0,231.8" fill="none" stroke="#2d4a9c" stroke-width="2" stroke-linejoin="round" stroke-linecap="round"/>
<circle cx="894.8" cy="231.8" r="4" fill="#1f52d6"/>
<circle cx="894.8" cy="241" r="4" fill="#e8554b"/>
<circle cx="894.8" cy="356.9" r="4" fill="#9b51e0"/>
<circle cx="894.8" cy="380.7" r="4" fill="#27a55b"/>
</svg>
<div class="a" style="left:222px;top:438px;width:42px;height:28px;background:#ececed;border-radius:4px;"></div>
<div class="t" style="left:26.3px;top:443.63px;font-size:15.8px;line-height:15.8px;color:#7b7f86;font-weight:400;letter-spacing:-1.3px;-webkit-text-stroke:0.3px #7b7f86;">1H</div>
<div class="t" style="left:65.89999999999999px;top:443.63px;font-size:15.8px;line-height:15.8px;color:#7b7f86;font-weight:400;letter-spacing:-1.3px;-webkit-text-stroke:0.3px #7b7f86;">6H</div>
<div class="t" style="left:106.5px;top:443.63px;font-size:15.8px;line-height:15.8px;color:#7b7f86;font-weight:400;letter-spacing:-1.3px;-webkit-text-stroke:0.3px #7b7f86;">1D</div>
<div class="t" style="left:146.0px;top:443.63px;font-size:15.8px;line-height:15.8px;color:#7b7f86;font-weight:400;letter-spacing:-1.3px;-webkit-text-stroke:0.3px #7b7f86;">1W</div>
<div class="t" style="left:190.3px;top:443.63px;font-size:15.8px;line-height:15.8px;color:#7b7f86;font-weight:400;letter-spacing:-1.3px;-webkit-text-stroke:0.3px #7b7f86;">1M</div>
<div class="t" style="left:231.9px;top:443.63px;font-size:15.8px;line-height:15.8px;color:#111;font-weight:400;letter-spacing:-1.3px;-webkit-text-stroke:0.3px #111;">ALL</div>
<svg style="left:821px;top:444px" width="14" height="16" viewBox="0 0 14 16">
<path d="M1.3 2.6 C1.3 1.9 1.9 1.3 2.6 1.3 H8 L12.7 6 V13.4 C12.7 14.1 12.1 14.7 11.4 14.7 H2.6 C1.9 14.7 1.3 14.1 1.3 13.4 Z" fill="none" stroke="#111" stroke-width="1.7" stroke-linejoin="round"/>
<path d="M8 1.3 V6 H12.7" fill="none" stroke="#111" stroke-width="1.5" stroke-linejoin="round"/>
<path d="M4 6.6 H6.5 M4 9.3 H10 M4 11.9 H10" stroke="#111" stroke-width="1.5"/>
</svg>
<svg style="left:850.7px;top:443.5px" width="17" height="16" viewBox="0 0 17 16">
<path d="M5 4.5 L1.3 8 L5 11.5 M12 4.5 L15.7 8 L12 11.5 M9.7 1.5 L7.3 14.5" fill="none" stroke="#111" stroke-width="1.7" stroke-linecap="round" stroke-linejoin="round"/>
</svg>
<svg style="left:883px;top:444.5px" width="16" height="15" viewBox="0 0 16 15">
<path d="M0.5 2.5 H15.5 M0.5 7.5 H15.5 M0.5 12.5 H15.5" stroke="#222" stroke-width="1.7"/>
<circle cx="11" cy="2.5" r="1.9" fill="#111"/><circle cx="5" cy="7.5" r="1.9" fill="#111"/><circle cx="11" cy="12.5" r="1.9" fill="#111"/>
</svg>
<svg style="left:915px;top:443.5px" width="16" height="16" viewBox="0 0 16 16">
<path d="M6.6 1 H9.4 L9.9 3.1 L11.6 4.1 L13.7 3.4 L15.1 5.8 L13.5 7.3 V9.2 L15.1 10.7 L13.7 13.1 L11.6 12.4 L9.9 13.4 L9.4 15.5 H6.6 L6.1 13.4 L4.4 12.4 L2.3 13.1 L0.9 10.7 L2.5 9.2 V7.3 L0.9 5.8 L2.3 3.4 L4.4 4.1 L6.1 3.1 Z" fill="none" stroke="#111" stroke-width="1.6" stroke-linejoin="round"/>
<circle cx="8" cy="8.25" r="2.4" fill="none" stroke="#111" stroke-width="1.6"/>
</svg>
<div class="a" style="left:15px;top:475px;width:922px;height:1px;background:#ededef;"></div>
<div class="t" style="left:15.2px;top:486.38px;font-size:11.6px;line-height:11.6px;color:#7d7d7d;font-weight:400;letter-spacing:0.9px;-webkit-text-stroke:0.25px #7d7d7d;">OUTCOME</div>
<div class="t" style="left:429.5px;top:486.38px;font-size:11.6px;line-height:11.6px;color:#7d7d7d;font-weight:400;letter-spacing:0.85px;-webkit-text-stroke:0.25px #7d7d7d;">% CHANCE</div>
<div class="a" style="left:503.5px;top:482px;width:17.5px;height:18px;border:1px solid #eeeeef;border-radius:4px;"></div>
<svg style="left:506px;top:485.5px" width="14" height="12" viewBox="0 0 14 12">
<path d="M2.6 6.2 A4.3 4.3 0 0 1 10.2 3.4" fill="none" stroke="#707070" stroke-width="1.5"/>
<path d="M0.8 5.3 H4.4 L2.6 8 Z" fill="#707070" stroke="#707070" stroke-width="0.6" stroke-linejoin="round"/>
<path d="M11 6.2 A4.3 4.3 0 0 1 3.6 9" fill="none" stroke="#707070" stroke-width="1.5"/>
<path d="M9.2 7.1 H12.8 L11 4.4 Z" fill="#707070" stroke="#707070" stroke-width="0.6" stroke-linejoin="round"/>
</svg>
<div class="a" style="left:15px;top:508px;width:922px;height:1px;background:#ededef;"></div>
<div class="t" style="left:15.2px;top:528.66px;font-size:16px;line-height:16px;color:#161616;font-weight:400;letter-spacing:0.55px;-webkit-text-stroke:0.35px #161616;">&lt;2%</div>
<div class="t" style="left:15.2px;top:552.07px;font-size:13.5px;line-height:13.5px;color:#8b8b8b;font-weight:400;letter-spacing:-0.12px;">$641,941 Vol.</div>
<svg style="left:109.5px;top:551.0px" width="12" height="12" viewBox="0 0 12 12">
<rect x="0.9" y="4.1" width="10.2" height="2.6" rx="0.6" fill="none" stroke="#8b8b8b" stroke-width="1.1"/>
<path d="M1.8 6.7 V10.2 C1.8 10.6 2.1 10.9 2.5 10.9 H9.5 C9.9 10.9 10.2 10.6 10.2 10.2 V6.7 M6 4.1 V10.9 M6 4.1 C5.2 2.6 4.7 1.3 3.8 1.3 C3 1.3 2.7 2.2 3 3 C3.3 3.7 4.5 4.1 6 4.1 C7.5 4.1 8.7 3.7 9 3 C9.3 2.2 9 1.3 8.2 1.3 C7.3 1.3 6.8 2.6 6 4.1" fill="none" stroke="#8b8b8b" stroke-width="1.1"/>
</svg>
<div class="t" style="left:431.1px;width:90px;text-align:center;top:531.65px;font-size:29px;line-height:29px;color:#cdcdcd;font-weight:400;letter-spacing:-0.6px;-webkit-text-stroke:0.35px #cdcdcd;">&lt;1%</div>
<svg style="left:513.7px;top:542.5px" width="8" height="7" viewBox="0 0 8 7"><path d="M4 6.3 L0.9 2.2 C0.3 1.4 0.8 0.4 1.8 0.4 H6.2 C7.2 0.4 7.7 1.4 7.1 2.2 Z" fill="#e0513f" stroke="#e0513f" stroke-width="0.6" stroke-linejoin="round"/></svg>
<div class="t" style="left:526.2px;top:539.80px;font-size:12.4px;line-height:12.4px;color:#e0513f;font-weight:400;letter-spacing:0.5px;-webkit-text-stroke:0.5px #e0513f;">1%</div>
<div class="a" style="left:661px;top:522px;width:134px;height:47.5px;background:#27ad60;border-radius:4px;"></div>
<div class="a" style="left:803px;top:522px;width:134px;height:47.5px;background:#fdeceb;border-radius:4px;"></div>
<div class="t" style="left:661.0px;width:134px;text-align:center;top:538.59px;font-size:15.6px;line-height:15.6px;color:#eef8f1;font-weight:400;letter-spacing:0.05px;-webkit-text-stroke:0.45px #eef8f1;">Buy Yes 0.2¢</div>
<div class="t" style="left:803.0px;width:134px;text-align:center;top:538.59px;font-size:15.6px;line-height:15.6px;color:#c4602e;font-weight:400;letter-spacing:0.05px;-webkit-text-stroke:0.45px #c4602e;">Buy No 99.9¢</div>
<div class="a" style="left:15px;top:583px;width:922px;height:1px;background:#ededef;"></div>
<div class="t" style="left:15.2px;top:603.16px;font-size:16px;line-height:16px;color:#161616;font-weight:400;letter-spacing:0.55px;-webkit-text-stroke:0.35px #161616;">2−5%</div>
<div class="t" style="left:15.2px;top:626.57px;font-size:13.5px;line-height:13.5px;color:#8b8b8b;font-weight:400;letter-spacing:-0.12px;">$368,479 Vol.</div>
<svg style="left:109.5px;top:625.5px" width="12" height="12" viewBox="0 0 12 12">
<rect x="0.9" y="4.1" width="10.2" height="2.6" rx="0.6" fill="none" stroke="#8b8b8b" stroke-width="1.1"/>
<path d="M1.8 6.7 V10.2 C1.8 10.6 2.1 10.9 2.5 10.9 H9.5 C9.9 10.9 10.2 10.6 10.2 10.2 V6.7 M6 4.1 V10.9 M6 4.1 C5.2 2.6 4.7 1.3 3.8 1.3 C3 1.3 2.7 2.2 3 3 C3.3 3.7 4.5 4.1 6 4.1 C7.5 4.1 8.7 3.7 9 3 C9.3 2.2 9 1.3 8.2 1.3 C7.3 1.3 6.8 2.6 6 4.1" fill="none" stroke="#8b8b8b" stroke-width="1.1"/>
</svg>
<div class="t" style="left:431.1px;width:90px;text-align:center;top:606.15px;font-size:29px;line-height:29px;color:#222;font-weight:400;letter-spacing:-0.6px;-webkit-text-stroke:0.35px #222;">2%</div>
<svg style="left:506.7px;top:617.0px" width="8" height="7" viewBox="0 0 8 7"><path d="M4 0.5 L7.1 4.6 C7.7 5.4 7.2 6.4 6.2 6.4 H1.8 C0.8 6.4 0.3 5.4 0.9 4.6 Z" fill="#2e9b5c" stroke="#2e9b5c" stroke-width="0.6" stroke-linejoin="round"/></svg>
<div class="t" style="left:517.9px;top:614.30px;font-size:12.4px;line-height:12.4px;color:#2e9b5c;font-weight:400;letter-spacing:0.5px;-webkit-text-stroke:0.5px #2e9b5c;">1%</div>
<div class="a" style="left:661px;top:596px;width:134px;height:47.5px;background:#e9f6ee;border-radius:4px;"></div>
<div class="a" style="left:803px;top:596px;width:134px;height:47.5px;background:#fdeceb;border-radius:4px;"></div>
<div class="t" style="left:661.0px;width:134px;text-align:center;top:612.59px;font-size:15.6px;line-height:15.6px;color:#3d9f64;font-weight:400;letter-spacing:0.05px;-webkit-text-stroke:0.45px #3d9f64;">Buy Yes 2.6¢</div>
<div class="t" style="left:803.0px;width:134px;text-align:center;top:612.59px;font-size:15.6px;line-height:15.6px;color:#c4602e;font-weight:400;letter-spacing:0.05px;-webkit-text-stroke:0.45px #c4602e;">Buy No 98.0¢</div>
<div class="a" style="left:15px;top:657px;width:922px;height:1px;background:#ededef;"></div>
<div class="t" style="left:15.2px;top:677.66px;font-size:16px;line-height:16px;color:#161616;font-weight:400;letter-spacing:0.55px;-webkit-text-stroke:0.35px #161616;">5−8%</div>
<div class="t" style="left:15.2px;top:701.07px;font-size:13.5px;line-height:13.5px;color:#8b8b8b;font-weight:400;letter-spacing:-0.12px;">$402,927 Vol.</div>
<svg style="left:109.5px;top:700.0px" width="12" height="12" viewBox="0 0 12 12">
<rect x="0.9" y="4.1" width="10.2" height="2.6" rx="0.6" fill="none" stroke="#8b8b8b" stroke-width="1.1"/>
<path d="M1.8 6.7 V10.2 C1.8 10.6 2.1 10.9 2.5 10.9 H9.5 C9.9 10.9 10.2 10.6 10.2 10.2 V6.7 M6 4.1 V10.9 M6 4.1 C5.2 2.6 4.7 1.3 3.8 1.3 C3 1.3 2.7 2.2 3 3 C3.3 3.7 4.5 4.1 6 4.1 C7.5 4.1 8.7 3.7 9 3 C9.3 2.2 9 1.3 8.2 1.3 C7.3 1.3 6.8 2.6 6 4.1" fill="none" stroke="#8b8b8b" stroke-width="1.1"/>
</svg>
<div class="t" style="left:431.1px;width:90px;text-align:center;top:680.65px;font-size:29px;line-height:29px;color:#222;font-weight:400;letter-spacing:-0.6px;-webkit-text-stroke:0.35px #222;">42%</div>
<svg style="left:515px;top:691.5px" width="8" height="7" viewBox="0 0 8 7"><path d="M4 0.5 L7.1 4.6 C7.7 5.4 7.2 6.4 6.2 6.4 H1.8 C0.8 6.4 0.3 5.4 0.9 4.6 Z" fill="#2e9b5c" stroke="#2e9b5c" stroke-width="0.6" stroke-linejoin="round"/></svg>
<div class="t" style="left:527.3px;top:688.80px;font-size:12.4px;line-height:12.4px;color:#2e9b5c;font-weight:400;letter-spacing:0.5px;-webkit-text-stroke:0.5px #2e9b5c;">14%</div>
<div class="a" style="left:661px;top:671px;width:134px;height:47.5px;background:#e9f6ee;border-radius:4px;"></div>
<div class="a" style="left:803px;top:671px;width:134px;height:47.5px;background:#fdeceb;border-radius:4px;"></div>
<div class="t" style="left:661.0px;width:134px;text-align:center;top:687.59px;font-size:15.6px;line-height:15.6px;color:#3d9f64;font-weight:400;letter-spacing:0.05px;-webkit-text-stroke:0.45px #3d9f64;">Buy Yes 42¢</div>
<div class="t" style="left:803.0px;width:134px;text-align:center;top:687.59px;font-size:15.6px;line-height:15.6px;color:#c4602e;font-weight:400;letter-spacing:0.05px;-webkit-text-stroke:0.45px #c4602e;">Buy No 59¢</div>
<div class="a" style="left:15px;top:732px;width:922px;height:1px;background:#ededef;"></div>
<div class="t" style="left:15.2px;top:752.16px;font-size:16px;line-height:16px;color:#161616;font-weight:400;letter-spacing:0.55px;-webkit-text-stroke:0.35px #161616;">8−11%</div>
<div class="t" style="left:15.2px;top:775.57px;font-size:13.5px;line-height:13.5px;color:#8b8b8b;font-weight:400;letter-spacing:-0.12px;">$334,145 Vol.</div>
<svg style="left:109.5px;top:774.5px" width="12" height="12" viewBox="0 0 12 12">
<rect x="0.9" y="4.1" width="10.2" height="2.6" rx="0.6" fill="none" stroke="#8b8b8b" stroke-width="1.1"/>
<path d="M1.8 6.7 V10.2 C1.8 10.6 2.1 10.9 2.5 10.9 H9.5 C9.9 10.9 10.2 10.6 10.2 10.2 V6.7 M6 4.1 V10.9 M6 4.1 C5.2 2.6 4.7 1.3 3.8 1.3 C3 1.3 2.7 2.2 3 3 C3.3 3.7 4.5 4.1 6 4.1 C7.5 4.1 8.7 3.7 9 3 C9.3 2.2 9 1.3 8.2 1.3 C7.3 1.3 6.8 2.6 6 4.1" fill="none" stroke="#8b8b8b" stroke-width="1.1"/>
</svg>
<div class="t" style="left:431.1px;width:90px;text-align:center;top:755.15px;font-size:29px;line-height:29px;color:#222;font-weight:400;letter-spacing:-0.6px;-webkit-text-stroke:0.35px #222;">44%</div>
<svg style="left:515.2px;top:766.0px" width="8" height="7" viewBox="0 0 8 7"><path d="M4 6.3 L0.9 2.2 C0.3 1.4 0.8 0.4 1.8 0.4 H6.2 C7.2 0.4 7.7 1.4 7.1 2.2 Z" fill="#e0513f" stroke="#e0513f" stroke-width="0.6" stroke-linejoin="round"/></svg>
<div class="t" style="left:526.6px;top:763.30px;font-size:12.4px;line-height:12.4px;color:#e0513f;font-weight:400;letter-spacing:0.5px;-webkit-text-stroke:0.5px #e0513f;">6%</div>
<div class="a" style="left:661px;top:745px;width:134px;height:47.5px;background:#e9f6ee;border-radius:4px;"></div>
<div class="a" style="left:803px;top:745px;width:134px;height:47.5px;background:#fdeceb;border-radius:4px;"></div>
<div class="t" style="left:661.0px;width:134px;text-align:center;top:761.59px;font-size:15.6px;line-height:15.6px;color:#3d9f64;font-weight:400;letter-spacing:0.05px;-webkit-text-stroke:0.45px #3d9f64;">Buy Yes 45¢</div>
<div class="t" style="left:803.0px;width:134px;text-align:center;top:761.59px;font-size:15.6px;line-height:15.6px;color:#c4602e;font-weight:400;letter-spacing:0.05px;-webkit-text-stroke:0.45px #c4602e;">Buy No 57¢</div>
<div class="a" style="left:15px;top:806px;width:922px;height:1px;background:#ededef;"></div>
<div class="t" style="left:15.2px;top:826.66px;font-size:16px;line-height:16px;color:#161616;font-weight:400;letter-spacing:0.55px;-webkit-text-stroke:0.35px #161616;">11−14%</div>
<div class="t" style="left:15.2px;top:850.07px;font-size:13.5px;line-height:13.5px;color:#8b8b8b;font-weight:400;letter-spacing:-0.12px;">$542,443 Vol.</div>
<svg style="left:109.5px;top:849.0px" width="12" height="12" viewBox="0 0 12 12">
<rect x="0.9" y="4.1" width="10.2" height="2.6" rx="0.6" fill="none" stroke="#8b8b8b" stroke-width="1.1"/>
<path d="M1.8 6.7 V10.2 C1.8 10.6 2.1 10.9 2.5 10.9 H9.5 C9.9 10.9 10.2 10.6 10.2 10.2 V6.7 M6 4.1 V10.9 M6 4.1 C5.2 2.6 4.7 1.3 3.8 1.3 C3 1.3 2.7 2.2 3 3 C3.3 3.7 4.5 4.1 6 4.1 C7.5 4.1 8.7 3.7 9 3 C9.3 2.2 9 1.3 8.2 1.3 C7.3 1.3 6.8 2.6 6 4.1" fill="none" stroke="#8b8b8b" stroke-width="1.1"/>
</svg>
<div class="t" style="left:431.1px;width:90px;text-align:center;top:829.65px;font-size:29px;line-height:29px;color:#222;font-weight:400;letter-spacing:-0.6px;-webkit-text-stroke:0.35px #222;">10%</div>
<svg style="left:515px;top:840.5px" width="8" height="7" viewBox="0 0 8 7"><path d="M4 6.3 L0.9 2.2 C0.3 1.4 0.8 0.4 1.8 0.4 H6.2 C7.2 0.4 7.7 1.4 7.1 2.2 Z" fill="#e0513f" stroke="#e0513f" stroke-width="0.6" stroke-linejoin="round"/></svg>
<div class="t" style="left:525.5px;top:837.80px;font-size:12.4px;line-height:12.4px;color:#e0513f;font-weight:400;letter-spacing:0.5px;-webkit-text-stroke:0.5px #e0513f;">6%</div>
<div class="a" style="left:661px;top:820px;width:134px;height:47.5px;background:#e9f6ee;border-radius:4px;"></div>
<div class="a" style="left:803px;top:820px;width:134px;height:47.5px;background:#fdeceb;border-radius:4px;"></div>
<div class="t" style="left:661.0px;width:134px;text-align:center;top:836.59px;font-size:15.6px;line-height:15.6px;color:#3d9f64;font-weight:400;letter-spacing:0.05px;-webkit-text-stroke:0.45px #3d9f64;">Buy Yes 11¢</div>
<div class="t" style="left:803.0px;width:134px;text-align:center;top:836.59px;font-size:15.6px;line-height:15.6px;color:#c4602e;font-weight:400;letter-spacing:0.05px;-webkit-text-stroke:0.45px #c4602e;">Buy No 91¢</div>
<div class="a" style="left:15px;top:881px;width:922px;height:1px;background:#ededef;"></div>
<div class="t" style="left:15.2px;top:901.16px;font-size:16px;line-height:16px;color:#161616;font-weight:400;letter-spacing:0.55px;-webkit-text-stroke:0.35px #161616;">&gt;14%</div>
<div class="t" style="left:15.2px;top:924.57px;font-size:13.5px;line-height:13.5px;color:#8b8b8b;font-weight:400;letter-spacing:-0.12px;">$1,210,003 Vol.</div>
<svg style="left:120.5px;top:923.5px" width="12" height="12" viewBox="0 0 12 12">
<rect x="0.9" y="4.1" width="10.2" height="2.6" rx="0.6" fill="none" stroke="#8b8b8b" stroke-width="1.1"/>
<path d="M1.8 6.7 V10.2 C1.8 10.6 2.1 10.9 2.5 10.9 H9.5 C9.9 10.9 10.2 10.6 10.2 10.2 V6.7 M6 4.1 V10.9 M6 4.1 C5.2 2.6 4.7 1.3 3.8 1.3 C3 1.3 2.7 2.2 3 3 C3.3 3.7 4.5 4.1 6 4.1 C7.5 4.1 8.7 3.7 9 3 C9.3 2.2 9 1.3 8.2 1.3 C7.3 1.3 6.8 2.6 6 4.1" fill="none" stroke="#8b8b8b" stroke-width="1.1"/>
</svg>
<div class="t" style="left:431.1px;width:90px;text-align:center;top:904.15px;font-size:29px;line-height:29px;color:#222;font-weight:400;letter-spacing:-0.6px;-webkit-text-stroke:0.35px #222;">4%</div>
<svg style="left:506.8px;top:915.0px" width="8" height="7" viewBox="0 0 8 7"><path d="M4 6.3 L0.9 2.2 C0.3 1.4 0.8 0.4 1.8 0.4 H6.2 C7.2 0.4 7.7 1.4 7.1 2.2 Z" fill="#e0513f" stroke="#e0513f" stroke-width="0.6" stroke-linejoin="round"/></svg>
<div class="t" style="left:516.8px;top:912.30px;font-size:12.4px;line-height:12.4px;color:#e0513f;font-weight:400;letter-spacing:0.5px;-webkit-text-stroke:0.5px #e0513f;">2%</div>
<div class="a" style="left:661px;top:895px;width:134px;height:47.5px;background:#e9f6ee;border-radius:4px;"></div>
<div class="a" style="left:803px;top:895px;width:134px;height:47.5px;background:#fdeceb;border-radius:4px;"></div>
<div class="t" style="left:661.0px;width:134px;text-align:center;top:911.59px;font-size:15.6px;line-height:15.6px;color:#3d9f64;font-weight:400;letter-spacing:0.05px;-webkit-text-stroke:0.45px #3d9f64;">Buy Yes 3.8¢</div>
<div class="t" style="left:803.0px;width:134px;text-align:center;top:911.59px;font-size:15.6px;line-height:15.6px;color:#c4602e;font-weight:400;letter-spacing:0.05px;-webkit-text-stroke:0.45px #c4602e;">Buy No 96.5¢</div>
</body></html>
